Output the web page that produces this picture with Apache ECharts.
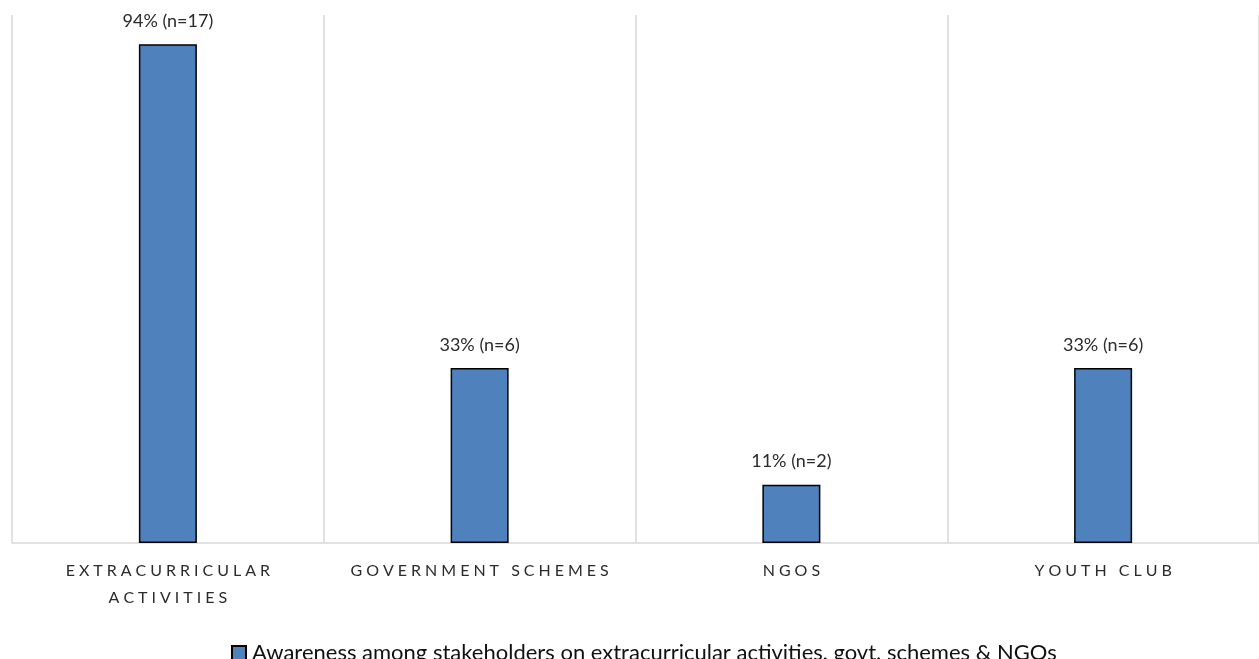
<!DOCTYPE html>
<html>
<head>
<meta charset="utf-8">
<script src="https://cdn.jsdelivr.net/npm/echarts@6/dist/echarts.min.js"></script>
<style>
  html, body { margin: 0; padding: 0; background: #fff; }
  #chart { width: 1259px; height: 659px; }
</style>
</head>
<body>
<div id="chart"></div>
<script>
// Awareness shares per category and the respondent counts behind them
const categories = ['EXTRACURRICULAR\nACTIVITIES', 'GOVERNMENT SCHEMES', 'NGOS', 'YOUTH CLUB'];
const percentValues = [94, 33, 11, 33];
const respondentCounts = [17, 6, 2, 6];
const seriesName = 'Awareness among stakeholders on extracurricular activities, govt. schemes & NGOs';

// spread capital letters apart (four-per-em spaces between glyphs)
function spaced(text) {
  return text.split('\n').map(line => line.split('').join('\u2005')).join('\n');
}

const chart = echarts.init(document.getElementById('chart'), null, { renderer: 'canvas' });
chart.setOption({
  animation: false,
  textStyle: { fontFamily: 'Lato, "Open Sans", sans-serif' },
  grid: { left: 12, right: -5, top: 15, bottom: 116, containLabel: false },
  legend: {
    top: 637,
    left: 226,
    icon: 'rect',
    itemWidth: 14,
    itemHeight: 14,
    textStyle: { fontSize: 22, color: '#111', fontFamily: 'Lato, "Open Sans", sans-serif', padding: [0, 0, 0, 1] },
    data: [seriesName]
  },
  xAxis: {
    type: 'category',
    data: categories,
    boundaryGap: true,
    axisLine: { show: true, lineStyle: { color: '#D9D9D9', width: 1.5 } },
    axisTick: { show: false },
    splitLine: { show: true, lineStyle: { color: '#D9D9D9', width: 1.5 } },
    axisLabel: {
      margin: 14,
      fontSize: 16,
      color: '#2b2b2b',
      lineHeight: 27,
      interval: 0,
      formatter: v => spaced(v)
    }
  },
  yAxis: {
    type: 'value',
    min: 0,
    max: 99.5,
    show: false,
    splitLine: { show: false }
  },
  series: [{
    name: seriesName,
    type: 'bar',
    data: percentValues,
    barWidth: 58,
    itemStyle: { color: '#4F81BD', borderColor: '#000', borderWidth: 1.5 },
    label: {
      show: true,
      position: 'top',
      distance: 14,
      fontSize: 18,
      color: '#2b2b2b',
      formatter: p => percentValues[p.dataIndex] + '% (n=' + respondentCounts[p.dataIndex] + ')'
    }
  }]
});
</script>
</body>
</html>
